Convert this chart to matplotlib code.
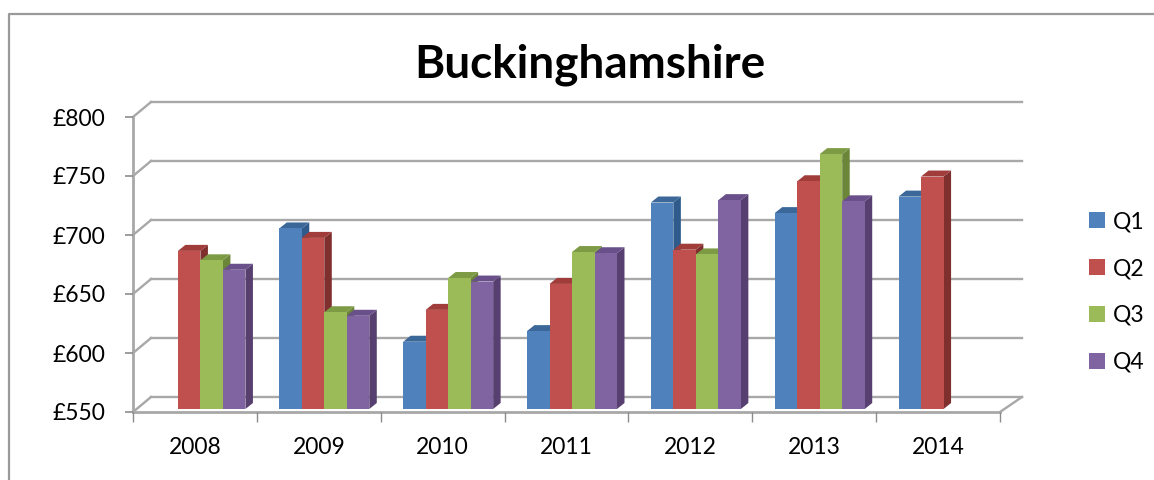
import numpy as np
import matplotlib
matplotlib.use("Agg")
import matplotlib.pyplot as plt
from matplotlib.lines import Line2D
from matplotlib.patches import Patch
from matplotlib.transforms import Affine2D

plt.rcParams["font.family"] = ["Lato", "DejaVu Sans"]

years = ["2008", "2009", "2010", "2011", "2012", "2013", "2014"]
q1 = [np.nan, 703, 607, 616, 725, 716, 730]
q2 = [684, 695, 634, 656, 685, 743, 747]
q3 = [676, 632, 661, 683, 681, 766, np.nan]
q4 = [668, 629, 658, 682, 727, 726, np.nan]
value_ticks = [550, 600, 650, 700, 750, 800]
value_labels = ["£550", "£600", "£650", "£700", "£750", "£800"]
series_names = ["Q1", "Q2", "Q3", "Q4"]

FRONT = ["#4f81bd", "#c0504d", "#9bbb59", "#8064a2"]
SIDE = ["#2f5a8c", "#7f302e", "#6b8539", "#57406f"]
TOP = ["#3c6799", "#a03c3a", "#7d9a45", "#69508a"]
GRID = "#a8a8a8"

W, H = 1154, 480
AX_L, AX_R, AX_T, AX_B = 133, 1000, 117, 412

fig = plt.figure(figsize=(W / 100, H / 100), dpi=100, facecolor="white")
ax = fig.add_axes([AX_L / W, 1 - AX_B / H, (AX_R - AX_L) / W, (AX_B - AX_T) / H])
ax.set_xlim(0, len(years))
ax.set_ylim(value_ticks[0], value_ticks[-1])
ax.patch.set_visible(False)

# outer chart frame
fig.add_artist(Line2D([9 / W, 9 / W, 1], [0, 1 - 14 / H, 1 - 14 / H],
                      color="#9a9a9a", lw=1.6, transform=fig.transFigure))

px_x = (AX_R - AX_L) / len(years)
px_y = (AX_B - AX_T) / (value_ticks[-1] - value_ticks[0])

# back wall and floor, shifted in pixels from the front plane
back = ax.transData + Affine2D().translate(18, 15)
for v in value_ticks:
    ax.plot([0, len(years) + 4 / px_x], [v, v], color=GRID, lw=1.7, transform=back, clip_on=False, zorder=1)
    ax.plot([0, 18 / px_x], [v, v + 15 / px_y], color=GRID, lw=1.7, clip_on=False, zorder=1)
ax.plot([len(years), len(years) + 22 / px_x], [550, 550 + 15 / px_y], color=GRID, lw=1.7,
        clip_on=False, zorder=1)

for name in ["top", "right"]:
    ax.spines[name].set_visible(False)
for name in ["left", "bottom"]:
    ax.spines[name].set_color(GRID)
    ax.spines[name].set_linewidth(2)
    ax.spines[name].set_zorder(1.5)

ax.set_yticks(value_ticks, value_labels)
ax.tick_params(axis="y", length=6, width=1.2, color="#8c8c8c", labelsize=16.5, pad=14)
ax.set_xticks(np.arange(len(years) + 1), [""] * (len(years) + 1))
ax.tick_params(axis="x", which="major", length=7, width=1, color="#8c8c8c")
ax.set_xticks(np.arange(len(years)) + 0.5, years, minor=True)
ax.tick_params(axis="x", which="minor", length=0, labelsize=16.5, pad=18)

# bars: front face with a side and a top face for the 3D look
bar_w = 22.5 / px_x
depth_x, depth_y = 7.5 / px_x, 6 / px_y
plane = ax.transData + Affine2D().translate(5.5, 3)
x = np.arange(len(years))
for i, vals in enumerate([q1, q2, q3, q4]):
    left = x + 0.5 + (i - 2) * bar_w
    for xl, v in zip(left, vals):
        if np.isnan(v):
            continue
        xr = xl + bar_w
        ax.fill([xr, xr + depth_x, xr + depth_x, xr],
                [550, 550 + depth_y, v + depth_y, v],
                color=SIDE[i], lw=0, transform=plane, clip_on=False, zorder=3)
        ax.fill([xl, xl + depth_x, xr + depth_x, xr],
                [v, v + depth_y, v + depth_y, v],
                color=TOP[i], lw=0, transform=plane, clip_on=False, zorder=3)
        ax.bar(xl, v - 550, bar_w, bottom=550, align="edge", color=FRONT[i], lw=0,
               transform=plane, clip_on=False, zorder=3)

fig.text(590 / W, 1 - 65 / H, "Buckinghamshire", ha="center", va="center",
         fontsize=33, fontweight="bold", color="black")

handles = [Patch(facecolor=c, edgecolor="none", label=n) for c, n in zip(FRONT, series_names)]
fig.legend(handles=handles, loc="center left", bbox_to_anchor=(1082 / W, 1 - 292 / H),
           frameon=False, fontsize=16.5, handlelength=0.7, handleheight=0.7, handletextpad=0.35,
           labelspacing=1.13, borderpad=0.3, borderaxespad=0)

fig.savefig("out.png", dpi=100)
